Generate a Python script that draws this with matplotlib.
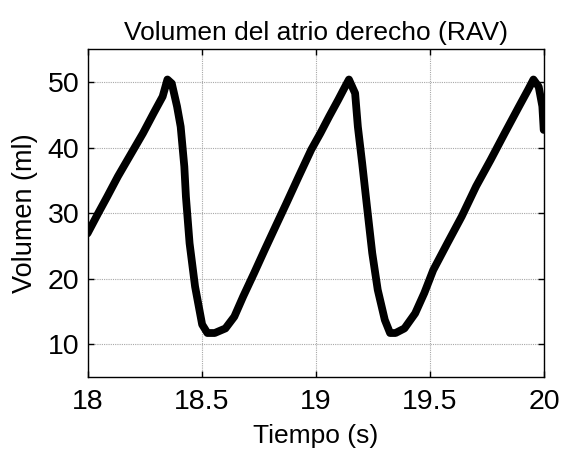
import matplotlib
matplotlib.use("Agg")
import matplotlib.pyplot as plt

plt.rcParams['font.family'] = ['Liberation Sans', 'DejaVu Sans']

tiempo = [18.000, 18.047, 18.086, 18.133, 18.188, 18.243, 18.290, 18.329, 18.350,
          18.369, 18.392, 18.408, 18.424, 18.431, 18.447, 18.471, 18.502, 18.525,
          18.557, 18.604, 18.643, 18.682, 18.729, 18.776, 18.824, 18.871, 18.925,
          18.980, 19.020, 19.059, 19.098, 19.125, 19.145, 19.172, 19.184, 19.203,
          19.224, 19.247, 19.271, 19.302, 19.325, 19.349, 19.388, 19.435, 19.475,
          19.514, 19.576, 19.639, 19.702, 19.765, 19.827, 19.890, 19.929, 19.953,
          19.976, 19.992, 19.998]
volumen = [26.9, 30.0, 32.5, 35.6, 38.9, 42.2, 45.3, 47.8, 50.4,
           49.8, 46.3, 43.2, 37.1, 32.5, 25.4, 18.8, 13.0, 11.7,
           11.7, 12.4, 14.2, 17.3, 20.8, 24.4, 28.0, 31.5, 35.6,
           39.7, 42.2, 44.8, 47.3, 49.1, 50.4, 48.3, 43.2, 37.6,
           31.0, 23.9, 18.3, 13.7, 11.7, 11.7, 12.4, 14.7, 17.8,
           21.3, 25.4, 29.5, 34.1, 38.1, 42.2, 46.3, 48.8, 50.4,
           49.3, 46.3, 42.7]

xticks = [18, 18.5, 19, 19.5, 20]
xticklabels = ['18', '18.5', '19', '19.5', '20']
yticks = [10, 20, 30, 40, 50]

fig = plt.figure(figsize=(5.61, 4.53), dpi=100)
ax = fig.add_axes([0.156, 0.168, 0.814, 0.723])
ax.plot(tiempo, volumen, color='black', lw=5.6, solid_joinstyle='round',
        solid_capstyle='round', clip_on=True)
ax.set_xlim(18, 20)
ax.set_ylim(5, 55)
ax.set_xticks(xticks)
ax.set_xticklabels(xticklabels)
ax.set_yticks(yticks)
ax.grid(True, color='#a8a8a8', linestyle=(0, (1, 1)), linewidth=0.8)
ax.tick_params(direction='in', length=4, width=1, top=True, right=True,
               labelsize=20.5, colors='black')
ax.tick_params(axis='x', pad=9)
ax.tick_params(axis='y', pad=6)
for s in ax.spines.values():
    s.set_linewidth(1.0)
ax.set_title('Volumen del atrio derecho (RAV)', fontsize=19, pad=7)
ax.set_xlabel('Tiempo (s)', fontsize=19, labelpad=6)
ax.set_ylabel('Volumen (ml)', fontsize=19.5, labelpad=7)
fig.savefig('out.png', dpi=100)
